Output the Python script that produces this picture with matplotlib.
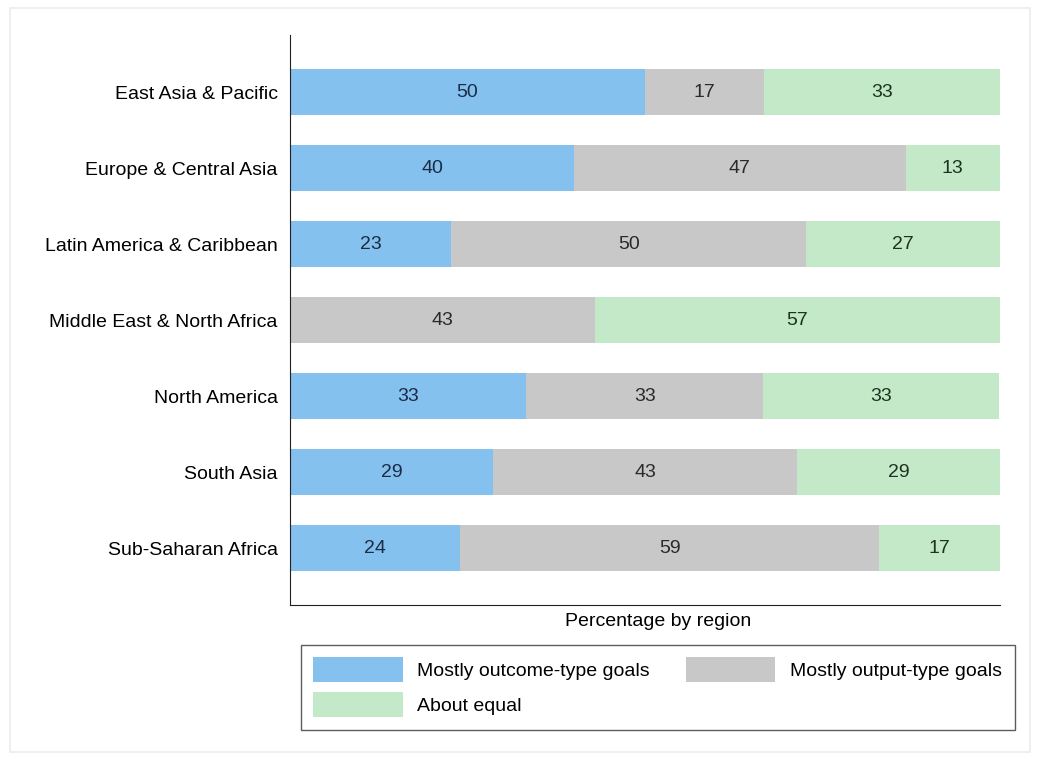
import matplotlib.pyplot as plt
from matplotlib.patches import Rectangle

plt.rcParams['font.family'] = ['Liberation Sans', 'DejaVu Sans']

regions = ['East Asia & Pacific', 'Europe & Central Asia', 'Latin America & Caribbean',
           'Middle East & North Africa', 'North America', 'South Asia', 'Sub-Saharan Africa']
outcome = [50, 40, 22.7, 0, 33.3, 28.6, 24]
output = [16.7, 46.7, 50, 42.9, 33.3, 42.8, 59]
equal = [33.3, 13.3, 27.3, 57.1, 33.3, 28.6, 17]

series_names = ['Mostly outcome-type goals', 'Mostly output-type goals', 'About equal']
colors = ['#84c1ee', '#c8c8c8', '#c4e9c9']
text_colors = ['#1b2c44', '#2a2a2a', '#1d3320']

fig = plt.figure(figsize=(10.44, 7.62), dpi=100)
ax = fig.add_axes([0.2778, 0.206, 0.680, 0.748])

# faint frame round the whole figure
fig.patches.append(Rectangle((10 / 1044, 10 / 762), 1020 / 1044, 744 / 762,
                             transform=fig.transFigure, fill=False,
                             edgecolor='#ececec', linewidth=1.2))

ypos = list(range(len(regions)))
left = [0] * len(regions)
handles = []
for vals, name, col, tcol in zip([outcome, output, equal], series_names, colors, text_colors):
    bars = ax.barh(ypos, vals, left=left, height=0.6, color=col, label=name)
    labels = ['%.0f' % v if v > 0 else '' for v in vals]
    ax.bar_label(bars, labels=labels, label_type='center', fontsize=14, color=tcol)
    handles.append(bars)
    left = [a + b for a, b in zip(left, vals)]

ax.set_xlim(0, 100)
ax.set_ylim(6.75, -0.75)
ax.set_yticks(ypos)
ax.set_yticklabels(regions, fontsize=14)
ax.tick_params(axis='y', length=0, pad=9)
ax.set_xticks([])
ax.set_xlabel('Percentage by region', fontsize=14, labelpad=6)
ax.xaxis.label.set_x(0.518)
for s in ['top', 'right']:
    ax.spines[s].set_visible(False)
ax.spines['left'].set_color('#222222')
ax.spines['bottom'].set_color('#222222')

# legend laid out row-wise: outcome, output / equal
leg = fig.legend([handles[0], handles[2], handles[1]],
                 [series_names[0], series_names[2], series_names[1]],
                 ncol=2, loc='center', bbox_to_anchor=(0.63, 0.098),
                 fontsize=14, handlelength=4.6, handleheight=1.6, handletextpad=0.75,
                 columnspacing=1.85, fancybox=False, edgecolor='#333333',
                 borderpad=0.65, labelspacing=0.5, borderaxespad=0)
leg.get_frame().set_linewidth(1.0)

plt.savefig('out.png', dpi=100)
